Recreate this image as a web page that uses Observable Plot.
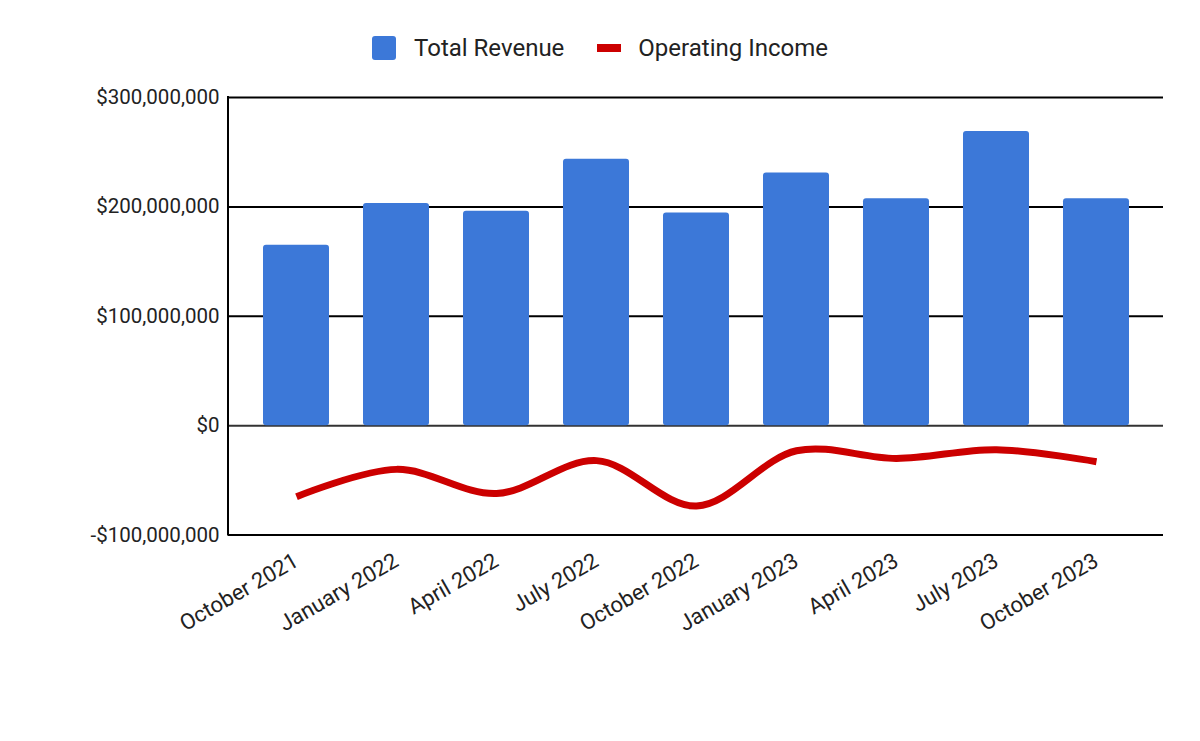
<!DOCTYPE html>
<html>
<head>
<meta charset="utf-8">
<script src="https://cdn.jsdelivr.net/npm/d3@7"></script>
<script src="https://cdn.jsdelivr.net/npm/@observablehq/plot@0.6"></script>
<style>
  body { margin: 0; background: #fff; font-family: Roboto, "Liberation Sans", sans-serif; }
  #legend { height: 70px; display: flex; align-items: center; justify-content: center; padding-top: 26px; box-sizing: border-box; font-size: 24px; color: #222; padding-left: 0px; }
  .item { display: flex; align-items: center; }
  .sw { width: 24px; height: 24px; border-radius: 3px; background: #3c78d8; margin-right: 18px; }
  .ln { width: 24px; height: 8px; background: #cc0000; margin-right: 17px; }
</style>
</head>
<body>
<div id="legend">
  <div class="item" style="margin-right:33px"><div class="sw"></div><span>Total Revenue</span></div>
  <div class="item"><div class="ln"></div><span>Operating Income</span></div>
</div>
<div id="chart"></div>
<script>
const quarters = ["October 2021", "January 2022", "April 2022", "July 2022", "October 2022", "January 2023", "April 2023", "July 2023", "October 2023"];
const totalRevenue = [165e6, 203e6, 196e6, 243.5e6, 194.5e6, 231e6, 207.5e6, 269e6, 207.5e6];
const operatingIncome = [-65e6, -40e6, -62e6, -32e6, -73.5e6, -23e6, -30e6, -22e6, -33e6];
const yTicks = [-100e6, 0, 100e6, 200e6, 300e6];

const data = quarters.map((q, i) => ({quarter: q, revenue: totalRevenue[i], income: operatingIncome[i]}));
const fmt = d => (d < 0 ? "-" : "") + "$" + d3.format(",")(Math.abs(d));

// left axis line drawn from the chart's own frame dimensions
const leftAxisLine = (index, scales, values, dims) => {
  const g = d3.create("svg:line")
    .attr("x1", dims.marginLeft).attr("x2", dims.marginLeft)
    .attr("y1", scales.y(300e6) - 1).attr("y2", scales.y(-100e6) + 1)
    .attr("stroke", "#000").attr("stroke-width", 2);
  return g.node();
};

const chart = Plot.plot({
  width: 1200,
  height: 671,
  marginTop: 27,
  marginBottom: 206.5,
  marginLeft: 228,
  marginRight: 37,
  style: {fontFamily: "Roboto, sans-serif", fontSize: "20px", color: "#222", background: "#fff"},
  x: {type: "band", domain: quarters, paddingInner: 0.34, paddingOuter: 0.33, label: null},
  y: {domain: [-100e6, 300e6], label: null},
  marks: [
    Plot.ruleY([100e6, 200e6, 300e6, -100e6], {stroke: "#000", strokeWidth: 2}),
    Plot.ruleY([0], {stroke: "#333", strokeWidth: 2}),
    Plot.barY(data, {x: "quarter", y: "revenue", fill: "#3c78d8", rx: 3}),
    Plot.line(data, {x: "quarter", y: "income", stroke: "#cc0000", strokeWidth: 7, curve: "catmull-rom", strokeLinecap: "butt"}),
    leftAxisLine,
    Plot.axisY({ticks: yTicks, tickFormat: fmt, tickSize: 0, tickPadding: 9, fontSize: 20.5}),
    Plot.axisX({tickRotate: -30, tickSize: 0, tickPadding: 24, fontSize: 22})
  ]
});
document.getElementById("chart").appendChild(chart);
</script>
</body>
</html>
